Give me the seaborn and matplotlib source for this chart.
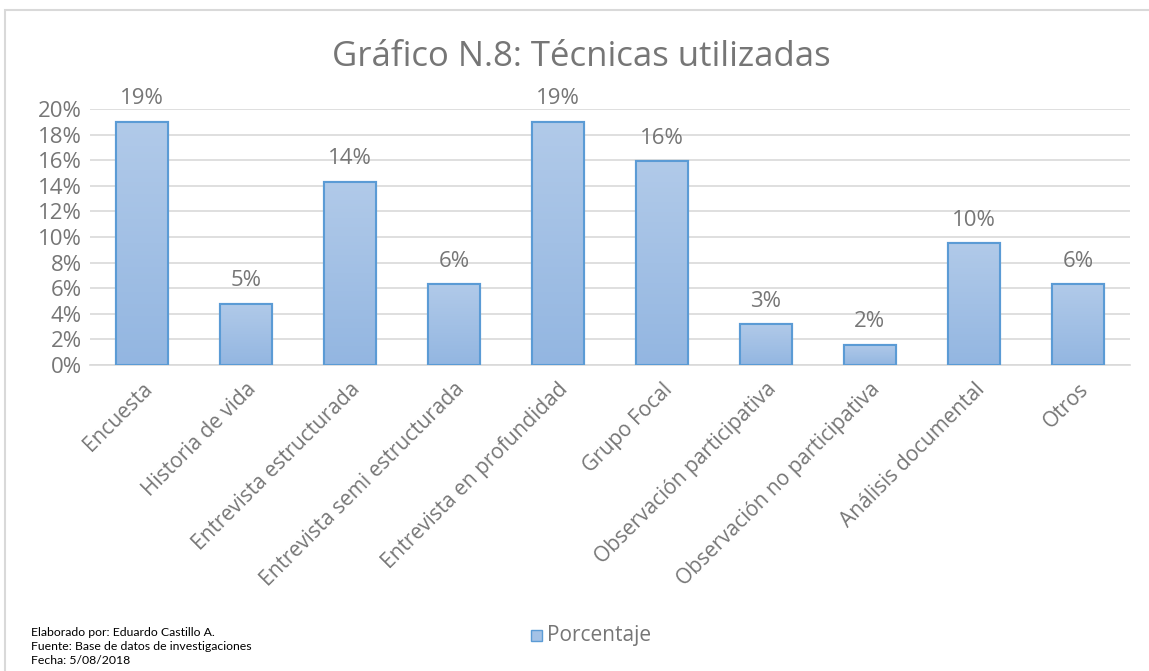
import numpy as np
import pandas as pd
import matplotlib
matplotlib.use("Agg")
import matplotlib.pyplot as plt
import seaborn as sns
from matplotlib.colors import LinearSegmentedColormap
from matplotlib.patches import Rectangle

# Data (counts out of 63)
tecnicas = ["Encuesta", "Historia de vida", "Entrevista estructurada",
            "Entrevista semi estructurada", "Entrevista en profundidad",
            "Grupo Focal", "Observación participativa",
            "Observación no participativa", "Análisis documental", "Otros"]
porcentaje = [0.190, 0.048, 0.143, 0.063, 0.190, 0.159, 0.032, 0.016, 0.095, 0.063]
etiquetas = ["19%", "5%", "14%", "6%", "19%", "16%", "3%", "2%", "10%", "6%"]

df = pd.DataFrame({"Técnica": tecnicas, "Porcentaje": porcentaje})

sns.set_theme(style="white")
plt.rcParams["font.family"] = ["Open Sans", "DejaVu Sans"]

gris = "#767676"
fig = plt.figure(figsize=(11.49, 6.71), dpi=100)
ax = fig.add_axes([0.0783, 0.456, 0.905, 0.3816])

sns.barplot(data=df, x="Técnica", y="Porcentaje", color="#9FBFE5",
            width=0.5, edgecolor="#5B9BD5", linewidth=1.5, ax=ax, zorder=3)

# gradient fill inside each bar
cmap = LinearSegmentedColormap.from_list("g", ["#93B6E1", "#B1CAE9"])
grad = np.linspace(0, 1, 256).reshape(-1, 1)
for p in ax.patches:
    x0, w, h = p.get_x(), p.get_width(), p.get_height()
    im = ax.imshow(grad, cmap=cmap, origin="lower", aspect="auto",
                   extent=[x0, x0 + w, 0, h], zorder=3.5)
    im.set_clip_path(p)
    ax.add_patch(Rectangle((x0, 0), w, h, fill=False, edgecolor="#5B9BD5",
                           linewidth=1.5, zorder=4))

ax.set_xlim(-0.5, len(tecnicas) - 0.5)
ax.set_ylim(0, 0.20)
ticks = np.arange(0, 0.201, 0.02)
ax.set_yticks(ticks)
ax.set_yticklabels([f"{int(round(v*100))}%" for v in ticks], color=gris, fontsize=16)
ax.yaxis.grid(True, color="#D9D9D9", linewidth=1.2, zorder=0)
ax.set_axisbelow(True)
for s in ["top", "right", "left"]:
    ax.spines[s].set_visible(False)
ax.spines["bottom"].set_color("#D9D9D9")
ax.spines["bottom"].set_linewidth(1.2)
ax.tick_params(axis="y", length=0, pad=6)
ax.tick_params(axis="x", length=0, pad=10)
ax.set_xticks(range(len(tecnicas)))
ax.set_xticklabels(tecnicas, rotation=45, ha="right", rotation_mode="anchor",
                   color=gris, fontsize=15)
ax.set_xlabel("")
ax.set_ylabel("")

for i, (v, t) in enumerate(zip(porcentaje, etiquetas)):
    ax.annotate(t, (i, v), xytext=(0, 9), textcoords="offset points",
                ha="center", va="bottom", color=gris, fontsize=16)

fig.text(0.506, 0.915, "Gráfico N.8: Técnicas utilizadas", ha="center",
         va="center", fontsize=25, color=gris)

# legend
fig.patches.append(Rectangle((0.462, 0.0447), 0.0096, 0.0164, transform=fig.transFigure,
                             facecolor="#A4C2E6", edgecolor="#5B9BD5", linewidth=1))
fig.text(0.476, 0.053, "Porcentaje", ha="left", va="center", fontsize=15, color=gris)

for k, linea in enumerate(["Elaborado por: Eduardo Castillo A.",
                           "Fuente: Base de datos de investigaciones",
                           "Fecha: 5/08/2018"]):
    fig.text(0.027, 0.058 - k * 0.021, linea, fontsize=8.8, color="black",
             va="center", family=["Lato", "DejaVu Sans"])

# outer frame
fig.patches.append(Rectangle((0.004, -0.05), 1.1, 1.035, transform=fig.transFigure,
                             fill=False, edgecolor="#D9D9D9", linewidth=1.5))

fig.savefig("out.png", dpi=100)
